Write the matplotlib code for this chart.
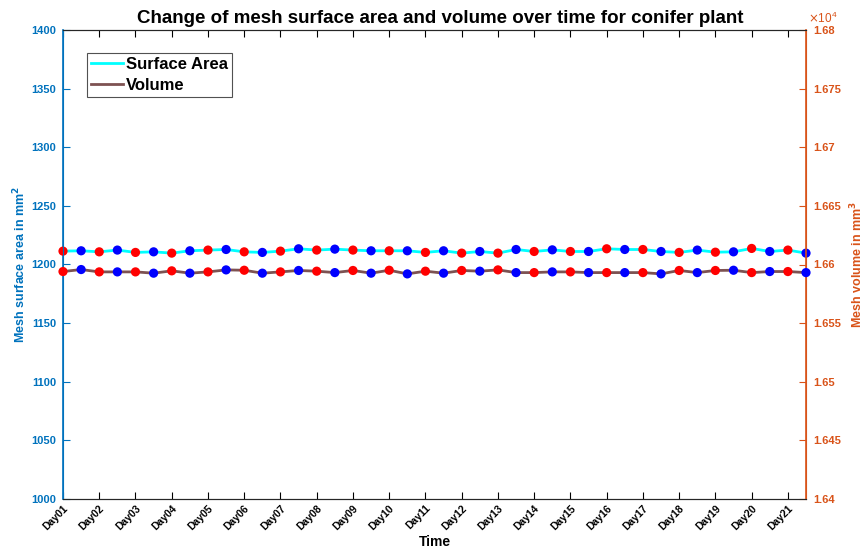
import matplotlib
matplotlib.use("Agg")
import matplotlib.pyplot as plt
import numpy as np
from matplotlib.ticker import FixedLocator, FuncFormatter

plt.rcParams['font.family'] = ['Liberation Sans', 'DejaVu Sans']

days = [f"Day{i:02d}" for i in range(1, 22)]
day_pos = list(range(1, 22))
# samples every half day (42 samples)
time = [1 + 0.5 * i for i in range(42)]

surface_area = [1211.4, 1211.7, 1210.8, 1212.3, 1210.3, 1210.8, 1209.7, 1211.7, 1212.3, 1212.8, 1210.8,
                1210.3, 1211.4, 1213.4, 1212.3, 1213.1, 1212.3, 1211.7, 1211.7, 1211.7, 1210.3,
                1211.7, 1209.7, 1211.1, 1209.7, 1212.8, 1211.1, 1212.5, 1211.1, 1211.1, 1213.4,
                1212.8, 1212.8, 1211.1, 1210.3, 1212.3, 1210.5, 1210.8, 1213.7, 1211.1, 1212.3, 1209.7]

volume = [16594.0, 16595.7, 16593.7, 16593.7, 16593.7, 16592.6, 16594.6, 16592.6, 16593.7, 16595.4, 16595.1,
          16592.6, 16593.7, 16594.9, 16594.3, 16593.1, 16594.9, 16592.6, 16595.1, 16592.0, 16594.3,
          16592.6, 16594.9, 16594.3, 16595.4, 16593.1, 16593.1, 16593.7, 16593.7, 16593.1, 16593.1,
          16593.1, 16593.1, 16592.0, 16594.9, 16593.1, 16594.9, 16595.1, 16593.1, 16594.0, 16594.0, 16593.1]

left_ticks = [1000, 1050, 1100, 1150, 1200, 1250, 1300, 1350, 1400]
right_ticks = [16400, 16450, 16500, 16550, 16600, 16650, 16700, 16750, 16800]

c_left = '#0072BD'
c_right = '#D95319'
c_cyan = '#00FFFF'
c_brown = '#7D5252'
marker_colors = ['#FF0000' if i % 2 == 0 else '#0000FF' for i in range(len(time))]

fig = plt.figure(figsize=(8.66, 5.5), dpi=100)
ax = fig.add_axes([63/866, 1-499/550, (806-63)/866, (499-30)/550])
ax2 = ax.twinx()

l1, = ax.plot(time, surface_area, color=c_cyan, lw=2, zorder=2, label='Surface Area')
ax.scatter(time, surface_area, c=marker_colors, s=44, zorder=3, edgecolors='none', clip_on=False)
l2, = ax2.plot(time, volume, color=c_brown, lw=2, zorder=2, label='Volume')
ax2.scatter(time, volume, c=marker_colors, s=44, zorder=3, edgecolors='none', clip_on=False)

ax.set_xlim(time[0], time[-1])
ax.set_ylim(1000, 1400)
ax2.set_ylim(16400, 16800)

ax.set_xticks(day_pos)
ax.set_xticklabels(days, rotation=45, ha='right', rotation_mode='anchor', fontsize=7.5, fontweight='bold')
ax.set_yticks(left_ticks)
ax.set_yticklabels([str(t) for t in left_ticks], fontsize=8, fontweight='bold', color=c_left)
ax2.yaxis.set_major_locator(FixedLocator(right_ticks))
ax2.yaxis.set_major_formatter(FuncFormatter(lambda v, p: f"{v/1e4:.4f}".rstrip('0').rstrip('.')))
for t in ax2.get_yticklabels():
    t.set_fontweight('bold')
ax2.tick_params(axis='y', labelsize=8, colors=c_right, direction='in', length=5, pad=5)

ax.tick_params(axis='x', direction='in', top=True, length=5, pad=3)
ax.tick_params(axis='y', direction='in', colors=c_left, length=5, pad=5)

for a in (ax, ax2):
    a.spines['left'].set_color(c_left)
    a.spines['right'].set_color(c_right)
    a.spines['top'].set_color('#262626')
    a.spines['bottom'].set_color('#262626')
    for s in a.spines.values():
        s.set_linewidth(0.8)
ax.spines['left'].set_linewidth(1.2)
ax2.spines['right'].set_linewidth(1.2)

ax.set_xlabel('Time', fontsize=10, fontweight='bold', labelpad=2)
ax.set_ylabel('Mesh surface area in mm$^\\mathbf{2}$', fontsize=9, fontweight='bold', color=c_left, labelpad=2)
ax2.set_ylabel('Mesh volume in mm$^\\mathbf{3}$', fontsize=9, fontweight='bold', color=c_right, labelpad=6)
ax.set_title('Change of mesh surface area and volume over time for conifer plant',
             fontsize=13.5, fontweight='bold', pad=5, x=0.508)

fig.text(808/866, 1-18/550, '$\\times\\mathregular{10}^{\\mathregular{4}}$', color=c_right, fontsize=8.5,
         ha='left', va='center')

leg = ax.legend([l1, l2], ['Surface Area', 'Volume'], loc='upper left',
                bbox_to_anchor=(24/743, 1-23/469), prop={'weight': 'bold', 'size': 12},
                frameon=True, fancybox=False, edgecolor='#262626', borderpad=0.25,
                handlelength=1.9, handletextpad=0.2, labelspacing=0.35, borderaxespad=0)
leg.get_frame().set_linewidth(0.8)

fig.savefig('out.png', dpi=100)
